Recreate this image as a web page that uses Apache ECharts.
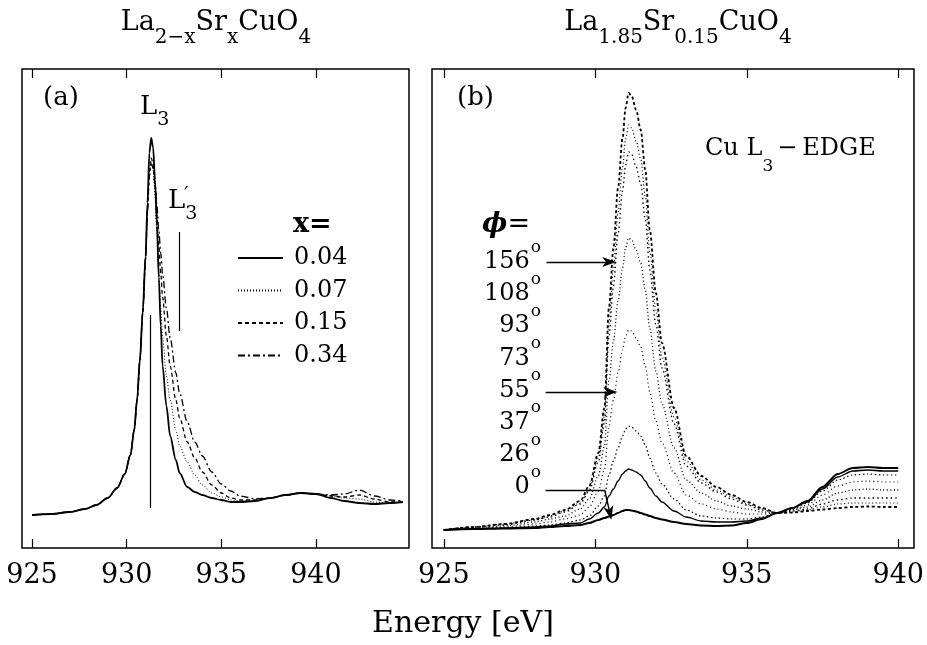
<!DOCTYPE html>
<html>
<head>
<meta charset="utf-8">
<title>Cu L3-edge</title>
<script src="https://cdn.jsdelivr.net/npm/echarts@6/dist/echarts.min.js"></script>
<style>
    html, body { margin: 0; padding: 0; background: #fff; }
    #chart { width: 927px; height: 645px; }
</style>
</head>
<body>
<div id="chart"></div>
<script>
    // panel (a): La2-xSrxCuO4, energy [eV] vs intensity (arb. units)
    var energyA = [925, 926, 927, 927.8, 928.4, 929, 929.5, 929.9, 930.2, 930.4, 930.55, 930.7, 930.85, 931.0, 931.1,
        931.2, 931.3, 931.4, 931.5, 931.6, 931.7, 931.8, 931.9, 932.1, 932.3, 932.6, 932.8, 933.2, 933.6, 934.0,
        934.5, 935.0, 935.5, 936, 936.8, 937.6, 938.4, 939.2, 940, 940.8, 941.5, 942.3, 943.1, 943.9, 944.6];
    var x004 = [33, 34, 36, 39, 43, 50, 60, 74, 93, 118, 148, 188, 236, 292, 345, 395, 410, 400, 368, 322, 270, 222,
        182, 142, 112, 88, 75, 61, 56, 53, 50, 48, 46, 46, 47, 50, 53, 55, 54, 50, 47, 45, 44, 45, 46];
    var x007 = [33, 34, 36, 39, 43, 50, 60, 74, 93, 118, 148, 188, 236, 290, 338, 376, 386, 378, 352, 316, 276, 240,
        210, 172, 148, 118, 102, 86, 73, 63, 55, 51, 48, 47, 47, 50, 53, 55, 54, 52, 50, 49, 46, 45, 46];
    var x015 = [33, 34, 36, 39, 43, 50, 60, 74, 93, 118, 148, 188, 236, 290, 340, 378, 390, 384, 362, 333, 302, 275,
        251, 212, 182, 148, 130, 106, 90, 76, 63, 55, 50, 48, 48, 50, 53, 55, 54, 52, 51, 53, 49, 46, 46];
    var x034 = [33, 34, 36, 39, 43, 50, 60, 74, 93, 118, 148, 188, 236, 288, 336, 372, 384, 380, 364, 342, 318, 295,
        274, 240, 210, 175, 155, 126, 106, 92, 76, 64, 57, 52, 49, 50, 53, 55, 54, 53, 54, 58, 52, 48, 47];
    var dopingNames = ['0.04', '0.07', '0.15', '0.34'];

    // panel (b): La1.85Sr0.15CuO4, different angles phi
    var energyB = [925, 926, 927, 928, 928.5, 929, 929.5, 929.8, 930.1, 930.3, 930.45, 930.6, 930.75, 930.9, 931.0,
        931.1, 931.2, 931.35, 931.5, 931.65, 931.8, 932.0, 932.2, 932.6, 933, 933.5, 934, 934.5, 935, 935.5,
        936, 936.5, 937, 937.5, 938, 938.5, 939, 939.5, 940];
    var phi0 = [18, 19, 19.5, 20, 21, 22, 23, 25, 28, 30, 31.5, 33, 35, 37, 38, 38, 37.5, 36.5, 35, 33.5, 32, 30,
        28.5, 26, 24, 22.5, 22, 22.5, 25, 29, 35, 40, 47, 61, 74, 80, 81, 80, 80];
    var phi26 = [18, 19, 20, 21, 22, 24, 25, 29, 35, 41, 52, 59, 67, 74, 77, 79, 78, 76, 73, 67, 60, 52, 46, 37, 31,
        27, 26, 26, 27, 30, 35, 40, 46, 59, 71, 77, 78, 77, 77];
    var phi37 = [18, 19, 20, 22, 23, 25, 28, 32, 42, 52, 73, 87, 100, 112, 119, 122, 121, 117, 112, 103, 90, 75, 64,
        49, 38, 32, 30, 29, 29, 31, 35, 39, 45, 57, 68, 73, 74, 73, 73];
    var phi55 = [18, 20, 21, 24, 26, 29, 33, 41, 57, 78, 122, 148, 175, 198, 212, 218, 217, 210, 201, 182, 156, 127,
        105, 75, 53, 44, 39, 36, 34, 34, 35, 38, 43, 53, 62, 66, 67, 66, 66];
    var phi73 = [18, 20, 22, 26, 29, 32, 39, 49, 72, 102, 167, 207, 247, 280, 300, 310, 308, 298, 285, 258, 219, 177,
        144, 100, 68, 55, 47, 42, 39, 36, 35, 38, 41, 48, 55, 58, 59, 58, 58];
    var phi93 = [18, 21, 23, 28, 31, 36, 44, 57, 86, 125, 211, 262, 314, 357, 383, 396, 394, 381, 364, 329, 278, 223,
        180, 124, 82, 65, 56, 49, 43, 38, 35, 37, 39, 44, 48, 50, 50, 50, 50];
    var phi108 = [18, 21, 24, 28, 32, 37, 45, 59, 90, 132, 224, 279, 335, 381, 409, 423, 420, 407, 389, 352, 296, 238,
        191, 131, 87, 68, 58, 51, 44, 39, 35, 36, 38, 41, 44, 45, 45, 45, 45];
    var phi156 = [18, 21, 24, 29, 33, 38, 47, 62, 95, 140, 240, 300, 360, 410, 440, 455, 452, 438, 418, 378, 318, 255,
        205, 140, 92, 72, 61, 53, 46, 40, 35, 35.5, 37, 38.5, 40, 41, 41.5, 41, 41];
    var phiLabels = ['156', '108', '93', '73', '55', '37', '26', '0'];

    var tickValues = [925, 930, 935, 940];

    var serif = "'DejaVu Serif', serif";
    var chart = echarts.init(document.getElementById('chart'));

    function pairs(xs, ys) {
        var out = [];
        for (var i = 0; i < xs.length; i++) {
            out.push([xs[i], ys[i]]);
        }
        return out;
    }

    function xAxis(grid, min, max, pos) {
        return {
            type: 'value', gridIndex: grid, min: min, max: max, position: pos,
            axisLine: {show: false},
            splitLine: {show: false},
            axisTick: {show: true, inside: true, length: 9, customValues: tickValues,
                lineStyle: {color: '#000', width: 1.2}},
            axisLabel: {show: pos == 'bottom', customValues: tickValues, margin: 14,
                fontFamily: serif, fontSize: 27, color: '#000'}
        };
    }

    function yAxis(grid) {
        return {type: 'value', gridIndex: grid, min: 0, max: 479, show: false};
    }

    function line(name, xi, yi, xs, ys, type, width) {
        return {
            name: name, type: 'line', xAxisIndex: xi, yAxisIndex: yi,
            data: pairs(xs, ys), symbol: 'none', showSymbol: false,
            smooth: 0.3, smoothMonotone: 'x', silent: true,
            itemStyle: {color: '#000'},
            lineStyle: {color: '#000', width: width, type: type}
        };
    }

    var arrowHead = 'path://M5,0 L10,11 L5,8 L0,11 Z';

    var sA = line('0.04', 0, 0, energyA, x004, 'solid', 1.8);
    sA.z = 5;
    sA.markLine = {
        silent: true, animation: false, symbol: 'none',
        label: {show: false},
        lineStyle: {color: '#000', width: 1.2, type: 'solid'},
        data: [
            [{coord: [931.23, 40]}, {coord: [931.23, 233]}],
            [{coord: [932.77, 217]}, {coord: [932.77, 316]}]
        ]
    };

    var sB0 = line('0°', 2, 1, energyB, phi0, 'solid', 2);
    sB0.z = 5;
    sB0.markLine = {
        silent: true, animation: false, symbol: 'none',
        label: {show: false},
        lineStyle: {color: '#000', width: 1.4, type: 'solid'},
        data: [
            [{coord: [928.39, 286]}, {coord: [930.46, 286], symbol: arrowHead, symbolSize: [10, 14]}],
            [{coord: [928.36, 156]}, {coord: [930.5, 156], symbol: arrowHead, symbolSize: [10, 14]}],
            [{coord: [928.36, 58]}, {coord: [930.31, 58]}],
            [{coord: [930.31, 58]}, {coord: [930.48, 35], symbol: arrowHead, symbolSize: [10, 14]}]
        ]
    };

    var series = [
        sA,
        line('0.07', 0, 0, energyA, x007, [1, 2], 1),
        line('0.15', 0, 0, energyA, x015, [4, 3], 1.3),
        line('0.34', 0, 0, energyA, x034, [7, 3, 2, 3], 1.3),
        sB0,
        line('26°', 2, 1, energyB, phi26, 'solid', 1.3),
        line('37°', 2, 1, energyB, phi37, [1.5, 2.5], 1.2),
        line('55°', 2, 1, energyB, phi55, [1, 3], 1.2),
        line('73°', 2, 1, energyB, phi73, [1, 2.5], 1.3),
        line('93°', 2, 1, energyB, phi93, [1.5, 3], 1.3),
        line('108°', 2, 1, energyB, phi108, [1, 2.5], 1.2),
        line('156°', 2, 1, energyB, phi156, [3, 2.5], 1.8)
    ];

    var subRich = function (main, sub, pad) {
        return {
            m: {fontFamily: serif, fontSize: main, lineHeight: main + 3, verticalAlign: 'top'},
            s: {fontFamily: serif, fontSize: sub, lineHeight: sub, verticalAlign: 'top', padding: [pad, 0, 0, 0]},
            d: {fontFamily: serif, fontSize: main, lineHeight: main + 3, verticalAlign: 'top', padding: [0, 5, 0, 4]}
        };
    };

    function txt(x, y, text, extra) {
        var style = {text: text, fill: '#000', fontFamily: serif, fontSize: 24,
            align: 'left', verticalAlign: 'middle', textAlign: 'left', textVerticalAlign: 'middle'};
        for (var k in extra) {
            style[k] = extra[k];
        }
        if (extra.align) style.textAlign = extra.align;
        if (extra.verticalAlign) style.textVerticalAlign = extra.verticalAlign;
        return {type: 'text', x: x, y: y, silent: true, style: style};
    }

    var graphics = [
        txt(216, 9, '{m|La}{s|2−x}{m|Sr}{s|x}{m|CuO}{s|4}', {align: 'center', verticalAlign: 'top', rich: subRich(27, 20, 19)}),
        txt(678, 9, '{m|La}{s|1.85}{m|Sr}{s|0.15}{m|CuO}{s|4}', {align: 'center', verticalAlign: 'top', rich: subRich(27, 20, 19)}),
        txt(43, 98, '(a)', {fontSize: 26}),
        txt(457, 98, '(b)', {fontSize: 26}),
        txt(140, 94, '{m|L}{s|3}', {verticalAlign: 'top', rich: subRich(26, 19, 17)}),
        txt(168, 188, '{m|L}{s|3}', {verticalAlign: 'top', rich: subRich(26, 19, 17)}),
        txt(184, 196, '′', {fontSize: 20}),
        txt(293, 225, 'x=', {fontSize: 27, fontWeight: 'bold'}),
        txt(482, 225, '{p|ϕ}{e|=}', {rich: {
            p: {fontFamily: serif, fontSize: 27, fontStyle: 'italic', fontWeight: 'bold'},
            e: {fontFamily: serif, fontSize: 27}
        }}),
        txt(705, 137, '{m|Cu L}{s|3}{d|−}{m|EDGE}', {verticalAlign: 'top', rich: subRich(24, 17, 21)}),
        txt(463, 624, 'Energy [eV]', {fontSize: 30, align: 'center'})
    ];

    for (var i = 0; i < phiLabels.length; i++) {
        graphics.push(txt(541, 262 + i * 32.1 - 23, '{d|' + phiLabels[i] + '}{o|o}', {
            align: 'right', verticalAlign: 'top',
            rich: {
                d: {fontFamily: serif, fontSize: 24, lineHeight: 24, verticalAlign: 'top', padding: [11, 0, 0, 0]},
                o: {fontFamily: serif, fontSize: 17, lineHeight: 17, verticalAlign: 'top', padding: [0, 0, 0, 1]}
            }
        }));
    }

    chart.setOption({
        animation: false,
        backgroundColor: '#fff',
        grid: [
            {left: 22, top: 69, width: 387, height: 479, show: true, borderColor: '#000', borderWidth: 1.5},
            {left: 432, top: 69, width: 488, height: 479, show: true, borderColor: '#000', borderWidth: 1.5}
        ],
        xAxis: [
            xAxis(0, 924.47, 944.92, 'bottom'),
            xAxis(0, 924.47, 944.92, 'top'),
            xAxis(1, 924.61, 940.52, 'bottom'),
            xAxis(1, 924.61, 940.52, 'top')
        ],
        yAxis: [yAxis(0), yAxis(1)],
        legend: {
            data: dopingNames, orient: 'vertical', left: 237, top: 246,
            itemWidth: 45, itemHeight: 14, itemGap: 8.5, padding: 0, selectedMode: false,
            itemStyle: {opacity: 0},
            textStyle: {fontFamily: serif, fontSize: 24, lineHeight: 24, color: '#000', padding: [0, 0, 0, 6]}
        },
        graphic: graphics,
        series: series
    });
</script>
</body>
</html>
